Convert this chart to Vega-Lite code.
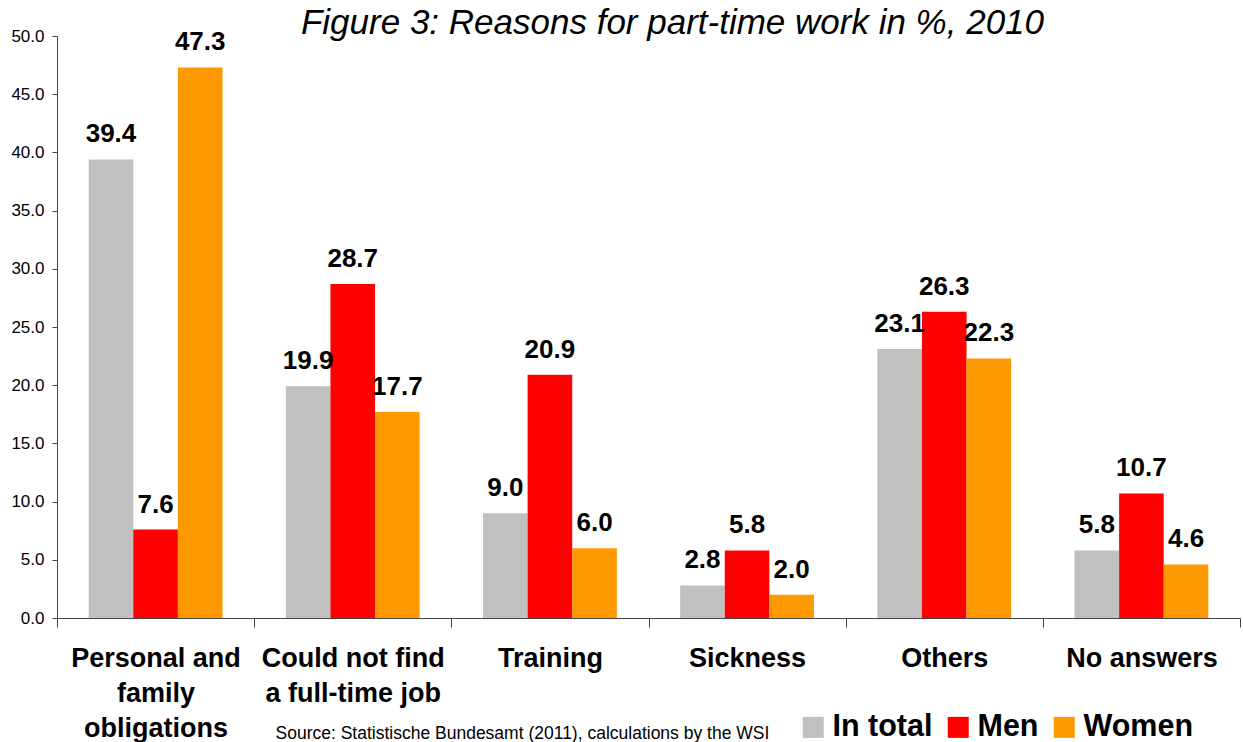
{
  "$schema": "https://vega.github.io/schema/vega-lite/v6.json",
  "width": 1183,
  "height": 582,
  "autosize": "none",
  "padding": {"left": 57, "top": 36, "right": 3, "bottom": 124},
  "background": "white",
  "title": {
    "text": "Figure 3: Reasons for part-time work in %, 2010",
    "font": "Liberation Sans",
    "fontSize": 35,
    "fontStyle": "italic",
    "fontWeight": "normal",
    "color": "#000000",
    "anchor": "middle",
    "frame": "group",
    "orient": "top",
    "baseline": "alphabetic",
    "offset": 0,
    "dx": 24,
    "dy": 42
  },
  "data": {
    "values": [
      {"reason": "Personal and family obligations", "group": "In total", "pct": 39.4},
      {"reason": "Personal and family obligations", "group": "Men", "pct": 7.6},
      {"reason": "Personal and family obligations", "group": "Women", "pct": 47.3},
      {"reason": "Could not find a full-time job", "group": "In total", "pct": 19.9},
      {"reason": "Could not find a full-time job", "group": "Men", "pct": 28.7},
      {"reason": "Could not find a full-time job", "group": "Women", "pct": 17.7},
      {"reason": "Training", "group": "In total", "pct": 9.0},
      {"reason": "Training", "group": "Men", "pct": 20.9},
      {"reason": "Training", "group": "Women", "pct": 6.0},
      {"reason": "Sickness", "group": "In total", "pct": 2.8},
      {"reason": "Sickness", "group": "Men", "pct": 5.8},
      {"reason": "Sickness", "group": "Women", "pct": 2.0},
      {"reason": "Others", "group": "In total", "pct": 23.1},
      {"reason": "Others", "group": "Men", "pct": 26.3},
      {"reason": "Others", "group": "Women", "pct": 22.3},
      {"reason": "No answers", "group": "In total", "pct": 5.8},
      {"reason": "No answers", "group": "Men", "pct": 10.7},
      {"reason": "No answers", "group": "Women", "pct": 4.6}
    ]
  },
  "encoding": {
    "x": {
      "field": "reason",
      "type": "nominal",
      "sort": null,
      "scale": {"paddingInner": 0, "paddingOuter": 0},
      "axis": {
        "title": "Source: Statistische Bundesamt (2011), calculations by the WSI",
        "titleFont": "Liberation Sans",
        "titleFontSize": 17.5,
        "titleFontWeight": "normal",
        "titleColor": "#000000",
        "titleAlign": "left",
        "titleAnchor": "start",
        "titleBaseline": "alphabetic",
        "titleX": 218,
        "titleY": 120,
        "labelAngle": 0,
        "labelFont": "Liberation Sans",
        "labelFontSize": 27,
        "labelFontWeight": "bold",
        "labelColor": "#000000",
        "labelBaseline": "top",
        "labelPadding": 18,
        "labelLineHeight": 35,
        "labelLimit": 0,
        "labelExpr": "datum.value == 'Personal and family obligations' ? ['Personal and', 'family', 'obligations'] : datum.value == 'Could not find a full-time job' ? ['Could not find', 'a full-time job'] : datum.label",
        "tickBand": "extent",
        "tickSize": 9,
        "tickColor": "#444444",
        "domainColor": "#444444",
        "grid": false
      }
    },
    "y": {
      "field": "pct",
      "type": "quantitative",
      "scale": {"domain": [0, 50], "nice": false},
      "axis": {
        "title": null,
        "values": [0, 5, 10, 15, 20, 25, 30, 35, 40, 45, 50],
        "format": ".1f",
        "labelFont": "Liberation Sans",
        "labelFontSize": 17,
        "labelColor": "#000000",
        "tickSize": 5,
        "tickColor": "#444444",
        "domainColor": "#444444",
        "labelPadding": 8,
        "grid": false
      }
    },
    "xOffset": {
      "field": "group",
      "type": "nominal",
      "scale": {"paddingInner": 0, "paddingOuter": 0.71}
    }
  },
  "layer": [
    {
      "mark": {"type": "bar"},
      "encoding": {
        "color": {
          "field": "group",
          "type": "nominal",
          "scale": {"domain": ["In total", "Men", "Women"], "range": ["#C0C0C0", "#FF0000", "#FF9900"]},
          "legend": {
            "title": null,
            "orient": "none",
            "direction": "horizontal",
            "legendX": 741,
            "legendY": 676,
            "padding": 0,
            "symbolType": "square",
            "symbolSize": 441,
            "symbolStrokeWidth": 0,
            "labelFont": "Liberation Sans",
            "labelFontSize": 30.5,
            "labelFontWeight": "bold",
            "labelColor": "#000000",
            "labelOffset": 4,
            "columnPadding": 10,
            "labelLimit": 0
          }
        }
      }
    },
    {
      "mark": {
        "type": "text",
        "font": "Liberation Sans",
        "fontSize": 26,
        "fontWeight": "bold",
        "color": "#000000",
        "baseline": "alphabetic",
        "dy": -17
      },
      "encoding": {
        "text": {"field": "pct", "type": "quantitative", "format": ".1f"}
      }
    }
  ],
  "config": {
    "view": {"stroke": null}
  }
}
